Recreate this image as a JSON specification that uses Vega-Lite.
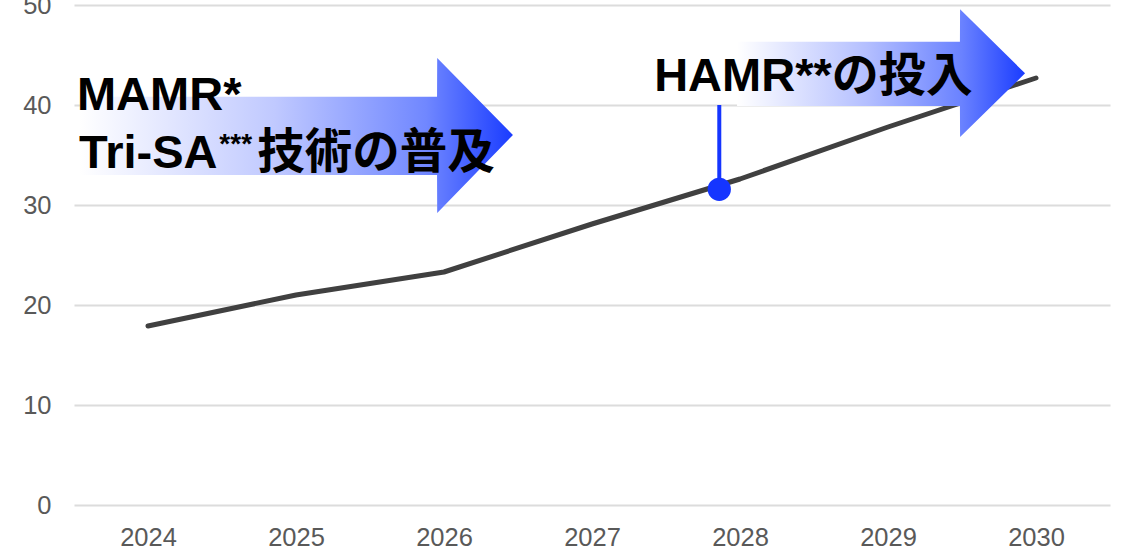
{
  "$schema": "https://vega.github.io/schema/vega-lite/v6.json",
  "width": 1036,
  "height": 500,
  "autosize": {"type": "none"},
  "padding": {"left": 74, "top": 5, "right": 15, "bottom": 45},
  "background": "white",
  "config": {"view": {"stroke": null}},
  "datasets": {
    "series": [
      {"year": 2024, "value": 17.9},
      {"year": 2025, "value": 21.0},
      {"year": 2026, "value": 23.3},
      {"year": 2027, "value": 28.1},
      {"year": 2028, "value": 32.6},
      {"year": 2029, "value": 37.8},
      {"year": 2030, "value": 42.7}
    ],
    "arrows": [
      {"arrow": "a", "x": 2023.54, "lo": 33.0, "hi": 40.83},
      {"arrow": "a", "x": 2025.953, "lo": 33.0, "hi": 40.83},
      {"arrow": "a", "x": 2025.954, "lo": 29.2, "hi": 44.7},
      {"arrow": "a", "x": 2026.466, "lo": 37.0, "hi": 37.0},
      {"arrow": "b", "x": 2027.98, "lo": 39.9, "hi": 46.33},
      {"arrow": "b", "x": 2029.486, "lo": 39.9, "hi": 46.33},
      {"arrow": "b", "x": 2029.487, "lo": 36.8, "hi": 49.57},
      {"arrow": "b", "x": 2029.926, "lo": 43.17, "hi": 43.17}
    ],
    "event": [
      {"x": 2027.86, "y": 31.57, "top": 40.0}
    ],
    "labels": [
      {"text": "MAMR*", "x": 2023.52, "y": 39.5},
      {"text": "Tri-SA", "x": 2023.534, "y": 33.7},
      {"text": "HAMR**の投入", "x": 2027.42, "y": 41.4}
    ],
    "cjk": [
      {"text": "技術の普及", "x": 2024.738, "y": 33.7}
    ],
    "sup": [
      {"text": "***", "x": 2024.482, "y": 35.2}
    ]
  },
  "layer": [
    {
      "data": {"name": "series"},
      "mark": {"type": "line", "color": "#404040", "strokeWidth": 5, "strokeCap": "round", "strokeJoin": "round"},
      "encoding": {
        "x": {
          "field": "year", "type": "quantitative",
          "scale": {"domain": [2023.5, 2030.5], "nice": false, "zero": false},
          "axis": {
            "title": null, "values": [2024, 2025, 2026, 2027, 2028, 2029, 2030], "format": "d",
            "grid": false, "domain": false, "ticks": false,
            "labelFont": "Liberation Sans", "labelFontSize": 25.5, "labelColor": "#595959",
            "labelPadding": 20
          }
        },
        "y": {
          "field": "value", "type": "quantitative",
          "scale": {"domain": [0, 50], "nice": false},
          "axis": {
            "title": null, "values": [0, 10, 20, 30, 40, 50],
            "grid": true, "gridColor": "#dcdcdc", "gridWidth": 2,
            "domain": false, "ticks": false,
            "labelFont": "Liberation Sans", "labelFontSize": 25.5, "labelColor": "#595959",
            "labelPadding": 23
          }
        }
      }
    },
    {
      "data": {"name": "arrows"},
      "transform": [{"filter": "datum.arrow === 'a'"}],
      "mark": {
        "type": "area", "opacity": 1,
        "fill": {"gradient": "linear", "x1": 0, "x2": 1, "y1": 0, "y2": 0,
          "stops": [
            {"offset": 0, "color": "#ffffff"},
            {"offset": 0.45, "color": "#c0c9ff"},
            {"offset": 0.8, "color": "#7087ff"},
            {"offset": 1, "color": "#1a3cff"}
          ]}
      },
      "encoding": {
        "x": {"field": "x", "type": "quantitative"},
        "y": {"field": "lo", "type": "quantitative"},
        "y2": {"field": "hi"}
      }
    },
    {
      "data": {"name": "arrows"},
      "transform": [{"filter": "datum.arrow === 'b'"}],
      "mark": {
        "type": "area", "opacity": 1,
        "fill": {"gradient": "linear", "x1": 0, "x2": 1, "y1": 0, "y2": 0,
          "stops": [
            {"offset": 0, "color": "#ffffff"},
            {"offset": 0.45, "color": "#b4bfff"},
            {"offset": 0.78, "color": "#6a82ff"},
            {"offset": 1, "color": "#1a3cff"}
          ]}
      },
      "encoding": {
        "x": {"field": "x", "type": "quantitative"},
        "y": {"field": "lo", "type": "quantitative"},
        "y2": {"field": "hi"}
      }
    },
    {
      "data": {"name": "event"},
      "mark": {"type": "rule", "color": "#1535ff", "strokeWidth": 4},
      "encoding": {
        "x": {"field": "x", "type": "quantitative"},
        "y": {"field": "y", "type": "quantitative"},
        "y2": {"field": "top"}
      }
    },
    {
      "data": {"name": "event"},
      "mark": {"type": "point", "filled": true, "shape": "circle", "size": 540, "color": "#1535ff", "opacity": 1},
      "encoding": {
        "x": {"field": "x", "type": "quantitative"},
        "y": {"field": "y", "type": "quantitative"}
      }
    },
    {
      "data": {"name": "labels"},
      "mark": {"type": "text", "align": "left", "baseline": "alphabetic", "font": "Liberation Sans, Noto Sans CJK JP", "fontWeight": "bold", "fontSize": 47, "color": "#000000"},
      "encoding": {
        "x": {"field": "x", "type": "quantitative"},
        "y": {"field": "y", "type": "quantitative"},
        "text": {"field": "text"}
      }
    },
    {
      "data": {"name": "cjk"},
      "mark": {"type": "text", "align": "left", "baseline": "alphabetic", "font": "Noto Sans CJK JP", "fontWeight": "bold", "fontSize": 47.5, "color": "#000000"},
      "encoding": {
        "x": {"field": "x", "type": "quantitative"},
        "y": {"field": "y", "type": "quantitative"},
        "text": {"field": "text"}
      }
    },
    {
      "data": {"name": "sup"},
      "mark": {"type": "text", "align": "left", "baseline": "alphabetic", "font": "Liberation Sans", "fontWeight": "bold", "fontSize": 28, "color": "#000000"},
      "encoding": {
        "x": {"field": "x", "type": "quantitative"},
        "y": {"field": "y", "type": "quantitative"},
        "text": {"field": "text"}
      }
    }
  ]
}
